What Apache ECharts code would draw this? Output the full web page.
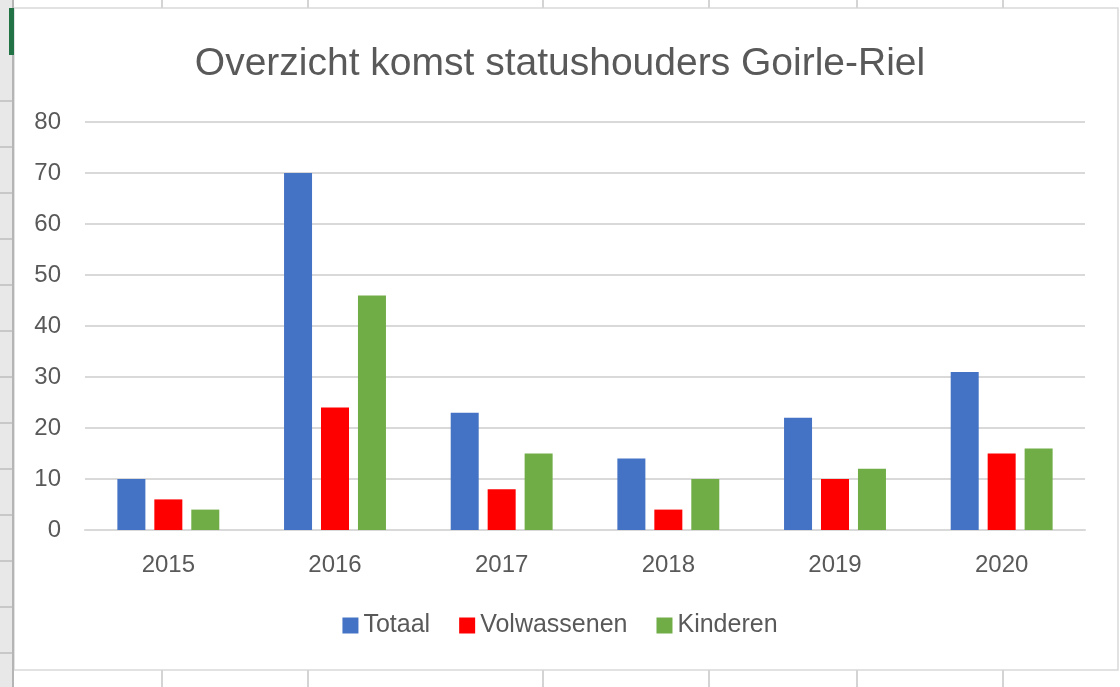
<!DOCTYPE html>
<html>
<head>
<meta charset="utf-8">
<script src="https://cdn.jsdelivr.net/npm/echarts@6/dist/echarts.min.js"></script>
<style>
  html, body { margin: 0; padding: 0; background: #fff; }
  #chart { width: 1120px; height: 687px; }
</style>
</head>
<body>
<div id="chart"></div>
<script>
const years = ['2015', '2016', '2017', '2018', '2019', '2020'];
const totaal = [10, 70, 23, 14, 22, 31];
const volwassenen = [6, 24, 8, 4, 10, 15];
const kinderen = [4, 46, 15, 10, 12, 16];
const yTicks = [0, 10, 20, 30, 40, 50, 60, 70, 80];

// spreadsheet cell borders around the chart object (decoration only)
const colLines = [162, 308, 543, 709, 857, 1003];
const rowLines = [101, 147, 193, 239, 285, 331, 377, 423, 469, 515, 561, 607, 653];

const FONT = '"Liberation Sans", "DejaVu Sans", sans-serif';

const sheet = [
    { type: 'rect', shape: { x: 0, y: 0, width: 12, height: 687 }, style: { fill: '#e8e8e8' }, silent: true },
    { type: 'line', shape: { x1: 13, y1: 0, x2: 13, y2: 687 }, style: { stroke: '#b5b5b5', lineWidth: 2 }, silent: true },
    { type: 'rect', shape: { x: 9, y: 8, width: 5, height: 47 }, style: { fill: '#217346' }, silent: true }
];
rowLines.forEach(y => sheet.push({
    type: 'line', shape: { x1: 0, y1: y, x2: 12, y2: y }, style: { stroke: '#a8a8a8', lineWidth: 1 }, silent: true
}));
colLines.forEach(x => {
    sheet.push({ type: 'line', shape: { x1: x, y1: 0, x2: x, y2: 8 }, style: { stroke: '#d4d4d4', lineWidth: 2 }, silent: true });
    sheet.push({ type: 'line', shape: { x1: x, y1: 670, x2: x, y2: 687 }, style: { stroke: '#d4d4d4', lineWidth: 2 }, silent: true });
});
sheet.push({
    type: 'rect', shape: { x: 14, y: 8, width: 1104, height: 662 },
    style: { fill: 'none', stroke: '#d9d9d9', lineWidth: 1.5 }, silent: true, z: -1
});

const chart = echarts.init(document.getElementById('chart'));

const option = {
    animation: false,
    backgroundColor: '#fff',
    title: {
        text: 'Overzicht komst statushouders Goirle-Riel',
        left: 'center',
        top: 40,
        textStyle: { fontFamily: FONT, fontSize: 39, fontWeight: 'normal', color: '#595959' }
    },
    legend: {
        bottom: 44,
        left: 'center',
        itemWidth: 16,
        itemHeight: 16,
        itemGap: 29,
        icon: 'rect',
        textStyle: { fontFamily: FONT, fontSize: 25, color: '#595959' },
        data: ['Totaal', 'Volwassenen', 'Kinderen']
    },
    grid: {
        left: 85,
        right: 35,
        top: 122,
        bottom: 157
    },
    xAxis: {
        type: 'category',
        data: years,
        axisLine: { lineStyle: { color: '#d9d9d9', width: 2 } },
        axisTick: { show: false },
        axisLabel: { fontFamily: FONT, fontSize: 24, color: '#595959', margin: 23 }
    },
    yAxis: {
        type: 'value',
        min: yTicks[0],
        max: yTicks[yTicks.length - 1],
        interval: 10,
        axisLine: { show: false },
        axisTick: { show: false },
        splitLine: { lineStyle: { color: '#d9d9d9', width: 2 } },
        axisLabel: { fontFamily: FONT, fontSize: 24, color: '#595959', margin: 24 }
    },
    series: [
        { name: 'Totaal', type: 'bar', data: totaal, barWidth: 28, barGap: '32%', itemStyle: { color: '#4472C4' } },
        { name: 'Volwassenen', type: 'bar', data: volwassenen, barWidth: 28, barGap: '32%', itemStyle: { color: '#FF0000' } },
        { name: 'Kinderen', type: 'bar', data: kinderen, barWidth: 28, barGap: '32%', itemStyle: { color: '#70AD47' } }
    ],
    graphic: sheet
};

chart.setOption(option);
</script>
</body>
</html>
